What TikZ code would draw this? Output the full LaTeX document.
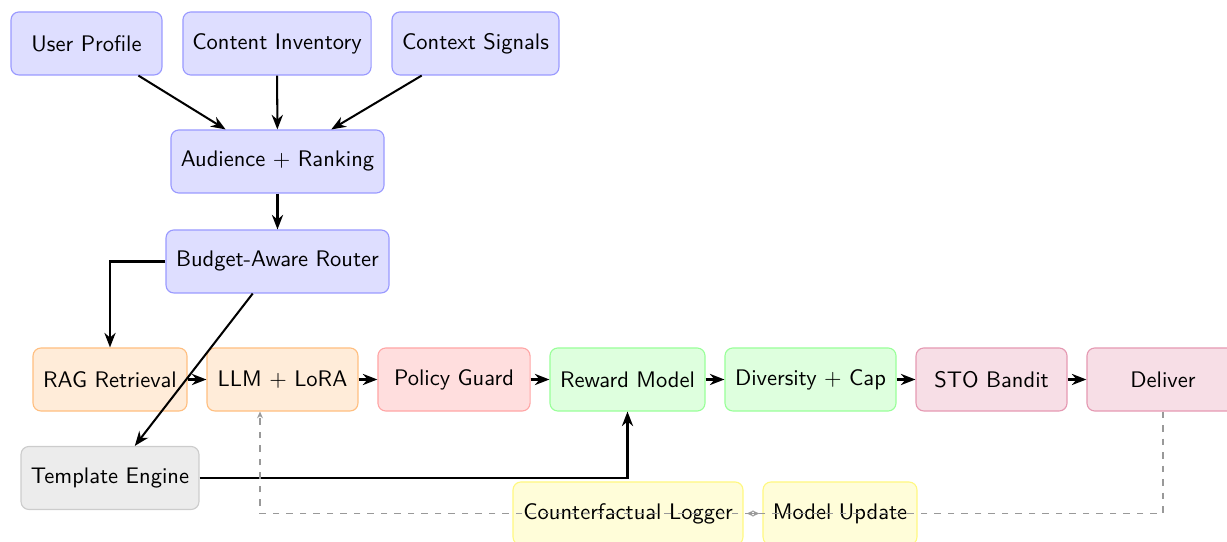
\documentclass[tikz,border=0pt]{standalone}
\usetikzlibrary{arrows.meta}
\begin{document}
\begin{tikzpicture}[x=0.4444pt,y=-0.4444pt,
  box/.style={rounded corners=3.5pt, draw, line width=0.5pt, minimum height=28pt, inner sep=2pt, font=\sffamily, align=center},
  bluebox/.style={box, fill=blue!13, draw=blue!40},
  orangebox/.style={box, fill=orange!15, draw=orange!50},
  redbox/.style={box, fill=red!13, draw=red!35},
  greenbox/.style={box, fill=green!13, draw=green!40},
  pinkbox/.style={box, fill=purple!13, draw=purple!40},
  graybox/.style={box, fill=gray!15, draw=gray!40},
  yellowbox/.style={box, fill=yellow!15, draw=yellow!50},
  flow/.style={line width=0.9pt, -{Stealth[length=6.5pt,width=5pt]}},
  fb/.style={gray!80, dashed, line width=0.5pt},
  fbtip/.style={-{Stealth[length=3pt,width=2.6pt]}},
]
\useasboundingbox (0,0) rectangle (1227,542);
\node[bluebox, minimum width=67.1pt] (up) at (86.5,43.5) {User Profile};
\node[bluebox, minimum width=83.6pt] (ci) at (277,43.5) {Content Inventory};
\node[bluebox, minimum width=74.2pt] (cs) at (475.5,43.5) {Context Signals};
\node[bluebox, minimum width=94.7pt] (aud) at (277.5,161.5) {Audience + Ranking};
\node[bluebox, minimum width=99.1pt] (router) at (277.5,261.5) {Budget-Aware Router};
\node[orangebox, minimum width=68.4pt] (rag) at (110,379.5) {RAG Retrieval};
\node[orangebox, minimum width=67.1pt] (llm) at (282.5,379.5) {LLM + LoRA};
\node[redbox, minimum width=67.6pt] (policy) at (454,379.5) {Policy Guard};
\node[greenbox, minimum width=68.9pt] (reward) at (627.5,379.5) {Reward Model};
\node[greenbox, minimum width=76pt] (div) at (810.5,379.5) {Diversity + Cap};
\node[pinkbox, minimum width=67.1pt] (sto) at (991.5,379.5) {STO Bandit};
\node[pinkbox, minimum width=67.6pt] (deliver) at (1163,379.5) {Deliver};
\node[graybox, minimum width=79.1pt] (tmpl) at (110,478) {Template Engine};
\node[yellowbox, minimum width=102.2pt] (logger) at (628,513.5) {Counterfactual Logger};
\node[yellowbox, minimum width=68.4pt] (update) at (840,513.5) {Model Update};

\draw[flow] (up) -- (aud);
\draw[flow] (ci) -- (aud);
\draw[flow] (cs) -- (aud);
\draw[flow] (aud) -- (router);
\draw[flow] (router.west) -| (rag.north);
\draw[flow] (router) -- (tmpl);
\draw[flow] (rag) -- (llm);
\draw[flow] (llm) -- (policy);
\draw[flow] (policy) -- (reward);
\draw[flow] (reward) -- (div);
\draw[flow] (div) -- (sto);
\draw[flow] (sto) -- (deliver);
\draw[flow] (tmpl.east) -| (reward.south);

\coordinate (llmin) at ([xshift=-10pt]llm.south);
\coordinate (fbturn) at (llmin |- logger);
\draw[fb, fbtip] (deliver.south) |- (fbturn) -- (llmin);
\draw[gray!80, line width=0.5pt, {Stealth[length=3pt,width=2.6pt]}-{Stealth[length=3pt,width=2.6pt]}, shorten <=1.4pt, shorten >=1.4pt] (logger.east) -- (update.west);
\end{tikzpicture}
\end{document}
